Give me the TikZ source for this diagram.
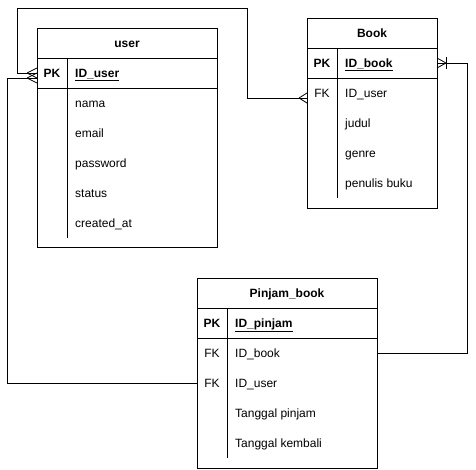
\documentclass[tikz,border=0pt]{standalone}
\usepackage{fontspec}
\setmainfont{Liberation Sans}
\begin{document}
\begin{tikzpicture}[x=1pt,y=-1pt,
  box/.style={draw, line width=0.9pt, rectangle, inner sep=0pt, outer sep=0pt, minimum width=#1},
  hdr/.style={font=\fontsize{12}{14}\selectfont\bfseries, inner sep=0pt, text height=10pt, text depth=2pt},
  key/.style={font=\fontsize{12}{14}\selectfont, inner sep=0pt, anchor=center, text height=10pt, text depth=2pt},
  field/.style={font=\fontsize{12}{14}\selectfont, inner sep=0pt, anchor=west, text height=10pt, text depth=2pt},
  conn/.style={line width=0.9pt},
  foot/.style={line width=0.8pt}]
\useasboundingbox (0,0) rectangle (476,469);
\fill[white] (0,0) rectangle (476,469);

% ---------- user ----------
\node[box=180pt, minimum height=30pt] (user) at (127,43) {};
\node[hdr] (usert) at (127,43) {user};
\node[box=180pt, minimum height=30pt] (userpk) at (127,73) {};
\node[box=180pt, minimum height=159pt] (userbody) at (127,167.5) {};
\draw[line width=0.9pt] (67,58) -- (67,238);
\node[key] (userk1) at (52,73) {\textbf{PK}};
\node[field] (userf1) at (75,73) {\textbf{\underline{ID\_user}}};
\node[field] (userf2) at (75,103) {nama};
\node[field] (userf3) at (75,133) {email};
\node[field] (userf4) at (75,163) {password};
\node[field] (userf5) at (75,193) {status};
\node[field] (userf6) at (75,223) {created\_at};

% ---------- Book ----------
\node[box=130pt, minimum height=30pt] (book) at (372,33) {};
\node[hdr] (bookt) at (372,33) {Book};
\node[box=130pt, minimum height=30pt] (bookpk) at (372,63) {};
\node[box=130pt, minimum height=130pt] (bookbody) at (372,143) {};
\draw[line width=0.9pt] (337,48) -- (337,198);
\node[key] (bookk1) at (322,63) {\textbf{PK}};
\node[key] (bookk2) at (322,93) {FK};
\node[field] (bookf1) at (345,63) {\textbf{\underline{ID\_book}}};
\node[field] (bookf2) at (345,93) {ID\_user};
\node[field] (bookf3) at (345,123) {judul};
\node[field] (bookf4) at (345,153) {genre};
\node[field] (bookf5) at (345,183) {penulis buku};

% ---------- Pinjam_book ----------
\node[box=180pt, minimum height=30pt] (pinjam) at (287,293) {};
\node[hdr] (pinjamt) at (287,293) {Pinjam\_book};
\node[box=180pt, minimum height=30pt] (pinjampk) at (287,323) {};
\node[box=180pt, minimum height=130pt] (pinjambody) at (287,403) {};
\draw[line width=0.9pt] (227,308) -- (227,458);
\node[key] (pinjamk1) at (212,323) {\textbf{PK}};
\node[key] (pinjamk2) at (212,353) {FK};
\node[key] (pinjamk3) at (212,383) {FK};
\node[field] (pinjamf1) at (235,323) {\textbf{\underline{ID\_pinjam}}};
\node[field] (pinjamf2) at (235,353) {ID\_book};
\node[field] (pinjamf3) at (235,383) {ID\_user};
\node[field] (pinjamf4) at (235,413) {Tanggal pinjam};
\node[field] (pinjamf5) at (235,443) {Tanggal kembali};

% ---------- connector end points ----------
\coordinate (u2) at (37,78);
\coordinate (bk1) at (307,98);
\coordinate (pj1) at (377,353);
\coordinate (pj2) at (197,383);

% ---------- connectors ----------
\draw[conn] (userpk.west) -| (17,8) -| (247,98) -- (bk1);
\draw[conn] (pj2) -| (7,78) -- (u2);
\draw[conn] (pj1) -| (467,63) -- (bookpk.east);

% ---------- crow's feet ----------
\draw[foot] (27,73) -- (37,68) (27,73) -- (37,78);
\draw[foot] (27,78) -- (37,73) (27,78) -- (37,83);
\draw[foot] (299,98) -- (307,93) (299,98) -- (307,103);
\draw[foot] (446,63) -- (437,58) (446,63) -- (437,68);
\draw[foot] (446,57) -- (446,69);
\end{tikzpicture}
\end{document}
